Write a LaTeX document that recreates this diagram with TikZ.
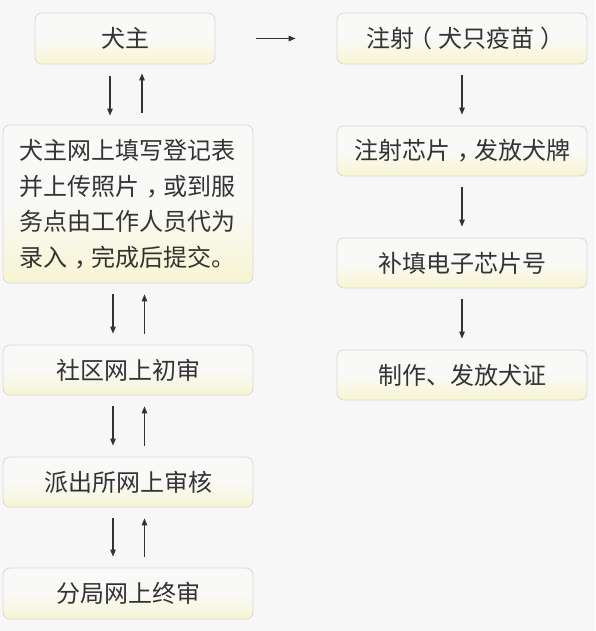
\documentclass[tikz,border=0pt]{standalone}
\usepackage{fontspec}
\newfontfamily\cjk{Noto Sans CJK SC}
\usetikzlibrary{arrows.meta}
\definecolor{bgc}{HTML}{F7F7F7}
\definecolor{boxtop}{HTML}{F9F9F7}
\definecolor{boxbot}{HTML}{F8F5D2}
\definecolor{boxline}{HTML}{D8D8D8}
\definecolor{ink}{HTML}{333333}
\newcommand\zcomma{\kern0.3em，\kern-0.3em}
\newcommand\zlp{\kern-0.25em（\kern0.25em}
\newcommand\zrp{\kern0.25em）\kern-0.25em}
\tikzset{
  stepbox/.style={draw=boxline, line width=0.8pt, rounded corners=7pt,
    top color=boxtop, bottom color=boxbot, middle color=boxtop,
    shading angle=0, inner sep=0pt, text=ink,
    font=\cjk\fontsize{24}{35.5}\selectfont},
  narrow/.style={stepbox, minimum width=250pt, minimum height=50pt},
  arr/.style={draw=ink, line width=1.1pt, -{Triangle[length=7pt,width=5.5pt]}},
}
\begin{document}
\begin{tikzpicture}[x=1pt,y=-1pt]
\fill[bgc] (0,0) rectangle (595,631);
\useasboundingbox (0,0) rectangle (595,631);
\node[stepbox, minimum width=180pt, minimum height=51pt] (dog) at (125,38.5) {犬主};
\node[stepbox, minimum width=250pt, minimum height=158pt, align=left, text width=218pt] (reg) at (128,204)
  {犬主网上填写登记表\\并上传照片\zcomma 或到服\\务点由工作人员代为\\录入\zcomma 完成后提交。};
\node[narrow] (sq) at (128,370) {社区网上初审};
\node[narrow] (pcs) at (128,482) {派出所网上审核};
\node[narrow, minimum height=51pt] (fj) at (128,593.5) {分局网上终审};
\node[narrow, minimum height=51pt] (r1) at (462,38.5) {注射\zlp 犬只疫苗\zrp};
\node[narrow] (r2) at (462,151) {注射芯片\zcomma 发放犬牌};
\node[narrow] (r3) at (462,263) {补填电子芯片号};
\node[narrow] (r4) at (462,375) {制作、发放犬证};
% horizontal
\draw[arr, shorten <=41pt, shorten >=41pt] (dog.east) -- (r1.west);
% left column pairs
\draw[arr, shorten <=12pt, shorten >=9pt] ([xshift=-15pt]dog.south) -- ([xshift=-15pt]dog.south |- reg.north);
\draw[arr, shorten <=12pt, shorten >=9pt] ([xshift=17pt]dog.south |- reg.north) -- ([xshift=17pt]dog.south);
\foreach \a/\b in {reg/sq, sq/pcs, pcs/fj}{
  \draw[arr, shorten <=11pt, shorten >=11pt] ([xshift=-15pt]\a.south) -- ([xshift=-15pt]\a.south |- \b.north);
  \draw[arr, shorten <=11pt, shorten >=11pt] ([xshift=16.5pt]\a.south |- \b.north) -- ([xshift=16.5pt]\a.south);
}
% right column
\foreach \a/\b in {r1/r2, r2/r3, r3/r4}{
  \draw[arr, shorten <=11pt, shorten >=11pt] (\a.south) -- (\b.north);
}
\end{tikzpicture}
\end{document}
